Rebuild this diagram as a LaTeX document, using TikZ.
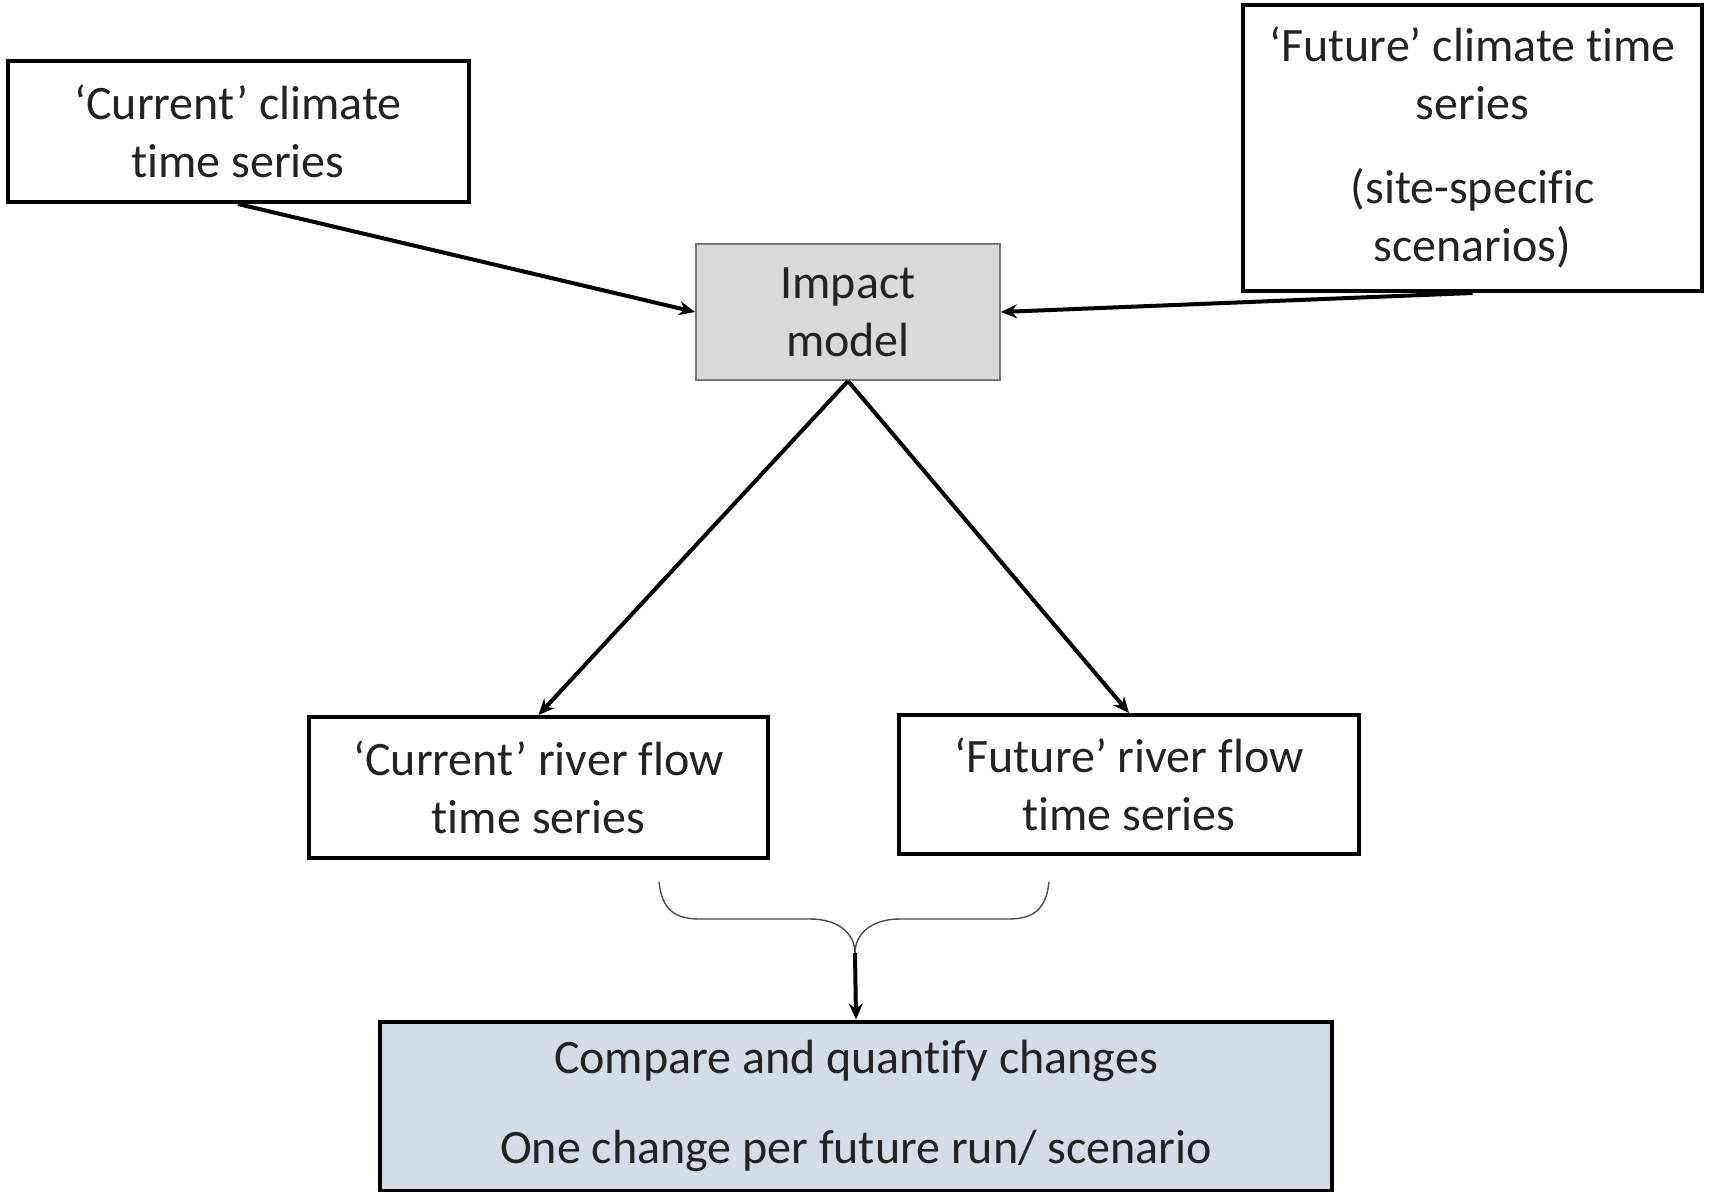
\documentclass[tikz,border=0pt]{standalone}
\usepackage{fontspec}
\setmainfont{Carlito}[Ligatures=NoCommon]
\usetikzlibrary{arrows.meta}
\definecolor{impfill}{RGB}{217,217,217}
\definecolor{impdraw}{RGB}{120,120,120}
\definecolor{cmpfill}{RGB}{214,220,228}
\definecolor{txt}{RGB}{35,35,35}
\begin{document}
\begin{tikzpicture}[x=0.5pt,y=-0.5pt,
  box/.style={draw=black,line width=2pt,fill=white,align=center,inner sep=0pt,
    font=\fontsize{24}{29}\selectfont,text=txt},
  impbox/.style={box,draw=impdraw,line width=1pt,fill=impfill},
  cmpbox/.style={box,fill=cmpfill},
  conn/.style={line width=2pt,-{Stealth[length=8pt,width=7pt]}},
  brace/.style={draw=black!70,line width=0.7pt}]
\useasboundingbox (0,0) rectangle (1711,1192);
\node[box,minimum width=230.5pt,minimum height=70.5pt] (cc) at (238,131.5)
  {‘Current’ climate\\time series};
\node[box,minimum width=229.5pt,minimum height=143pt] (fc) at (1472.5,148)
  {‘Future’ climate time\\series\\[13pt](site-specific\\scenarios)};
\node[impbox,minimum width=152pt,minimum height=68pt] (im) at (848,312)
  {Impact\\model};
\node[box,minimum width=229.5pt,minimum height=70.5pt] (cr) at (538.5,787.5)
  {‘Current’ river flow\\time series};
\node[box,minimum width=230pt,minimum height=69.5pt] (fr) at (1129,784.5)
  {‘Future’ river flow\\time series};
\node[cmpbox,minimum width=476pt,minimum height=84.5pt] (cmp) at (856,1106)
  {Compare and quantify changes\\[16pt]One change per future run/ scenario};
\draw[conn] (cc.south) -- (im.west);
\draw[conn] (fc.south) -- (im.east);
\draw[conn] (im.south) -- (cr.north);
\draw[conn] (im.south) -- (fr.north);
\coordinate (bl) at (659,882);
\coordinate (br) at (1049,882);
\coordinate (tip) at (855,953);
\draw[brace] (bl) .. controls (662,910) and (675,919) .. (700,919) -- (810,919)
  .. controls (840,919) and (855,935) .. (tip);
\draw[brace] (br) .. controls (1046,910) and (1033,919) .. (1008,919) -- (900,919)
  .. controls (870,919) and (855,935) .. (tip);
\draw[conn] (tip) -- (cmp.north);
\end{tikzpicture}
\end{document}
